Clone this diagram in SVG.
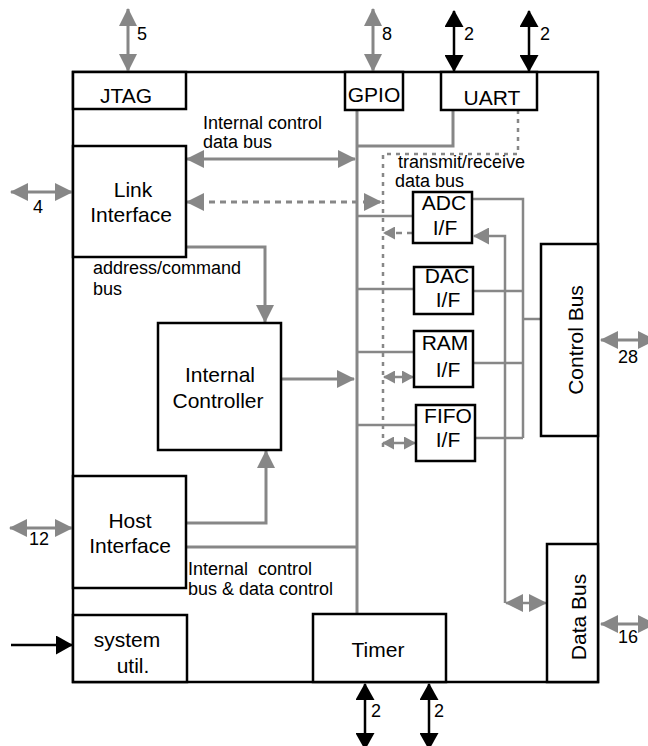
<svg xmlns="http://www.w3.org/2000/svg" width="648" height="746" viewBox="0 0 648 746">
<style>
.box{fill:#fff;stroke:#000;stroke-width:2.5}
.frame{fill:none;stroke:#000;stroke-width:2.5}
.nt{font-family:"Liberation Sans",Arial,sans-serif;font-size:21px;fill:#000;text-anchor:middle}
.lb{font-family:"Liberation Sans",Arial,sans-serif;font-size:18px;fill:#000}
.g{fill:none;stroke:#878787;stroke-width:3}
.gt{fill:none;stroke:#878787;stroke-width:2.5}
.dash{stroke-dasharray:6 5}
.dot{stroke-dasharray:4 5}
.k{fill:none;stroke:#000;stroke-width:2.5}
.ga{marker-start:url(#mG);marker-end:url(#mG)}
.gs{marker-start:url(#mGs);marker-end:url(#mGs)}
.ka{marker-start:url(#mK);marker-end:url(#mK)}
</style>
<defs>
<marker id="mG" markerUnits="userSpaceOnUse" markerWidth="18" markerHeight="18" refX="17" refY="9" orient="auto-start-reverse"><path d="M0,0 L18,9 L0,18 z" fill="#878787"/></marker>
<marker id="mGm" markerUnits="userSpaceOnUse" markerWidth="16" markerHeight="17" refX="15" refY="8.5" orient="auto-start-reverse"><path d="M0,0 L16,8.5 L0,17 z" fill="#878787"/></marker>
<marker id="mGs" markerUnits="userSpaceOnUse" markerWidth="12" markerHeight="13" refX="11" refY="6.5" orient="auto-start-reverse"><path d="M0,0 L12,6.5 L0,13 z" fill="#878787"/></marker>
<marker id="mK" markerUnits="userSpaceOnUse" markerWidth="17" markerHeight="19" refX="16" refY="9.5" orient="auto-start-reverse"><path d="M0,0 L17,9.5 L0,19 z" fill="#000"/></marker>
</defs>

<rect class="frame" x="73" y="72" width="525" height="610"/>

<g id="connectors">
  <!-- external ports -->
  <line class="g ga" x1="128" y1="9" x2="128" y2="71"/>
  <line class="g ga" x1="373" y1="9" x2="373" y2="71"/>
  <line class="k ka" x1="454" y1="11" x2="454" y2="71"/>
  <line class="k ka" x1="529" y1="11" x2="529" y2="71"/>
  <line class="g ga" x1="11" y1="192" x2="72" y2="192"/>
  <line class="g ga" x1="10" y1="528" x2="72" y2="528"/>
  <line class="k" x1="11" y1="645" x2="72" y2="645" marker-end="url(#mK)"/>
  <line class="g ga" x1="601" y1="340" x2="655" y2="340"/>
  <line class="g ga" x1="601" y1="624" x2="655" y2="624"/>
  <line class="k ka" x1="365" y1="684" x2="365" y2="749"/>
  <line class="k ka" x1="429" y1="684" x2="429" y2="749"/>

  <!-- main internal bus -->
  <line class="g" x1="357" y1="110" x2="357" y2="614"/>
  <path class="g" d="M453,110 V146 H357"/>
  <path class="gt dot" d="M518,110 V154 H383 V450"/>

  <line class="g ga" x1="187" y1="159" x2="355" y2="159"/>
  <line class="g dash ga" x1="187" y1="202" x2="381" y2="202"/>
  <path class="g" d="M186,247 H265 V322" marker-end="url(#mG)"/>
  <line class="g" x1="281" y1="379" x2="354" y2="379" marker-end="url(#mG)"/>
  <path class="g" d="M186,523 H266 V451" marker-end="url(#mG)"/>
  <line class="g" x1="186" y1="547" x2="357" y2="547"/>

  <line class="gt" x1="357" y1="216" x2="413" y2="216"/>
  <line class="gt" x1="357" y1="289" x2="414" y2="289"/>
  <line class="gt" x1="357" y1="352" x2="414" y2="352"/>
  <line class="gt" x1="357" y1="425" x2="416" y2="425"/>

  <line class="gt dash" x1="413" y1="233" x2="384" y2="233" marker-end="url(#mGs)"/>
  <line class="gt gs" x1="384" y1="377" x2="413" y2="377"/>
  <line class="gt gs" x1="383" y1="443" x2="415" y2="443"/>

  <!-- control bus side -->
  <path class="gt" d="M472,199 H523 V438"/>
  <line class="gt" x1="473" y1="291" x2="523" y2="291"/>
  <line class="gt" x1="473" y1="363" x2="523" y2="363"/>
  <line class="gt" x1="475" y1="438" x2="523" y2="438"/>
  <line class="gt" x1="523" y1="319" x2="541" y2="319"/>

  <!-- data bus side -->
  <path class="gt" d="M505,603 V236 H474" marker-end="url(#mGm)"/>
  <line class="gt" x1="506" y1="603" x2="546" y2="603" marker-start="url(#mG)" marker-end="url(#mG)"/>
</g>

<g id="jtag"><rect class="box" x="73" y="72" width="113" height="37"/><text class="nt" x="126" y="103">JTAG</text></g>
<g id="gpio"><rect class="box" x="345" y="72" width="58" height="38"/><text class="nt" x="374" y="102">GPIO</text></g>
<g id="uart"><rect class="box" x="441" y="72" width="96" height="38"/><text class="nt" x="492" y="105">UART</text></g>
<g id="link"><rect class="box" x="73" y="146" width="113" height="111"/><text class="nt" x="133" y="197">Link</text><text class="nt" x="131" y="222">Interface</text></g>
<g id="controller"><rect class="box" x="158" y="323" width="123" height="127"/><text class="nt" x="220" y="382">Internal</text><text class="nt" x="218" y="408">Controller</text></g>
<g id="host"><rect class="box" x="73" y="476" width="113" height="112"/><text class="nt" x="130" y="528">Host</text><text class="nt" x="130" y="553">Interface</text></g>
<g id="sysutil"><rect class="box" x="73" y="615" width="114" height="67"/><text class="nt" x="127" y="647">system</text><text class="nt" x="133" y="673">util.</text></g>
<g id="timer"><rect class="box" x="313" y="614" width="133" height="68"/><text class="nt" x="378" y="657">Timer</text></g>
<g id="adc"><rect class="box" x="413" y="192" width="59" height="51"/><text class="nt" x="444" y="210">ADC</text><text class="nt" x="445" y="235">I/F</text></g>
<g id="dac"><rect class="box" x="414" y="267" width="59" height="47"/><text class="nt" x="447" y="283">DAC</text><text class="nt" x="448" y="307">I/F</text></g>
<g id="ram"><rect class="box" x="414" y="331" width="59" height="56"/><text class="nt" x="445" y="350">RAM</text><text class="nt" x="448" y="377">I/F</text></g>
<g id="fifo"><rect class="box" x="416" y="405" width="59" height="56"/><text class="nt" x="448" y="423">FIFO</text><text class="nt" x="448" y="447">I/F</text></g>
<g id="controlbus"><rect class="box" x="541" y="244" width="57" height="192"/><text class="nt" transform="translate(583,340) rotate(-90)">Control Bus</text></g>
<g id="databus"><rect class="box" x="547" y="544" width="51" height="138"/><text class="nt" transform="translate(586,617) rotate(-90)">Data Bus</text></g>

<g id="labels">
  <text class="lb" x="203" y="129">Internal control</text>
  <text class="lb" x="203" y="148">data bus</text>
  <text class="lb" x="398" y="168">transmit/receive</text>
  <text class="lb" x="395" y="187">data bus</text>
  <text class="lb" x="93" y="274">address/command</text>
  <text class="lb" x="93" y="295">bus</text>
  <text class="lb" x="188" y="575" xml:space="preserve">Internal  control</text>
  <text class="lb" x="188" y="595">bus &amp; data control</text>
  <text class="lb" x="137" y="40">5</text>
  <text class="lb" x="382" y="40">8</text>
  <text class="lb" x="464" y="40">2</text>
  <text class="lb" x="540" y="40">2</text>
  <text class="lb" x="33" y="213">4</text>
  <text class="lb" x="29" y="545">12</text>
  <text class="lb" x="618" y="363">28</text>
  <text class="lb" x="618" y="643">16</text>
  <text class="lb" x="371" y="717">2</text>
  <text class="lb" x="434" y="717">2</text>
</g>
</svg>
